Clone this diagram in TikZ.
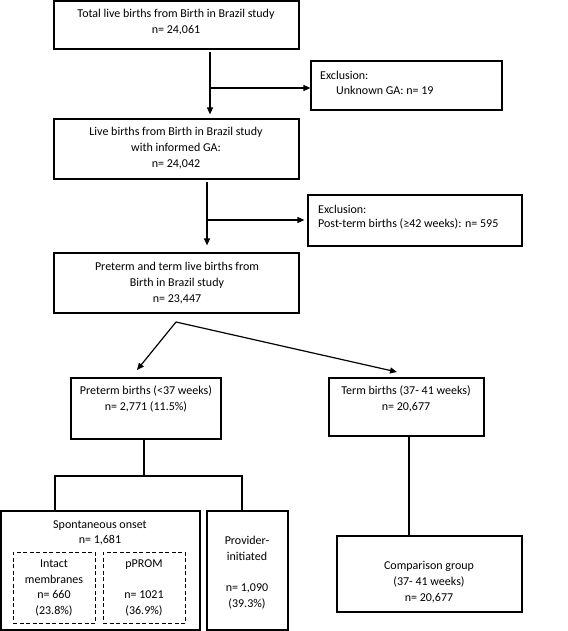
\documentclass[tikz,border=0pt]{standalone}
\usepackage{fontspec}
\setmainfont{Carlito}
\usetikzlibrary{arrows.meta,fit}
\begin{document}
\begin{tikzpicture}[x=1pt,y=-1pt,
 box/.style={draw, line width=1.2pt, inner sep=0pt},
 dbox/.style={draw, line width=0.9pt, dash pattern=on 4pt off 2.5pt, inner sep=0pt},
 txt/.style={align=center, font=\fontsize{12}{15.7}\selectfont, inner sep=0pt},
 ltxt/.style={anchor=west, font=\fontsize{12}{15.7}\selectfont, inner sep=0pt},
 arr/.style={line width=1.2pt, -{Triangle[length=7pt,width=6pt]}},
 ln/.style={line width=1.2pt}]
\useasboundingbox (0,0) rectangle (567,631);
% boxes
\node[box, fit={(54,1)(299,49)}] (b1) {};
\node[box, fit={(311,61)(502,110)}] (e1) {};
\node[box, fit={(54,119)(299,179)}] (b2) {};
\node[box, fit={(308,195)(522,246)}] (e2) {};
\node[box, fit={(54,253)(299,313)}] (b3) {};
\node[box, fit={(71,378)(221,439)}] (pre) {};
\node[box, fit={(329,378)(484,436)}] (term) {};
\node[box, fit={(1,511)(200,630)}] (spon) {};
\node[dbox, fit={(13,552)(95,623)}] (intact) {};
\node[dbox, fit={(103,552)(185,623)}] (pprom) {};
\node[box, fit={(207,511)(288,630)}] (prov) {};
\node[box, fit={(337,536)(522,612)}] (comp) {};
% texts
\node[txt] (t1) at (176,22) {Total live births from Birth in Brazil study\\n= 24,061};
\node[ltxt] (te1a) at (320,75) {Exclusion:};
\node[ltxt] (te1b) at (336,90) {Unknown GA: n= 19};
\node[txt] (t2) at (176,148) {Live births from Birth in Brazil study\\with informed GA:\\n= 24,042};
\node[ltxt] (te2a) at (318,209) {Exclusion:};
\node[ltxt] (te2b) at (318,224) {Post-term births (≥42 weeks): n= 595};
\node[txt] (t3) at (177,283) {Preterm and term live births from\\Birth in Brazil study\\n= 23,447};
\node[txt] (tpre) at (146,399) {Preterm births (<37 weeks)\\n= 2,771 (11.5\%)};
\node[txt] (tterm) at (406,399) {Term births (37- 41 weeks)\\n= 20,677};
\node[txt] (tspon) at (100,533) {Spontaneous onset\\n= 1,681};
\node[txt] (tint) at (54,588) {Intact\\membranes\\n= 660\\(23.8\%)};
\node[txt] (tpp) at (144,588) {pPROM\\\mbox{}\\n= 1021\\(36.9\%)};
\node[txt] (tprov) at (247,572.5) {Provider-\\initiated\\\mbox{}\\n= 1,090\\(39.3\%)};
\node[txt] (tcomp) at (429,582) {Comparison group\\(37- 41 weeks)\\n= 20,677};
% connectors
\coordinate (c1) at (210,88);
\coordinate (c2) at (207,220);
\coordinate (c3) at (176,322);
\coordinate (p1) at (137,370);
\coordinate (p2) at (397,372);
\coordinate (br) at (144,476);
\coordinate (bl) at (55,476);
\coordinate (brr) at (242,476);
\coordinate (tc) at (409,500);
\draw[arr] ([yshift=-2pt]b1.south -| c1) -- ([yshift=4pt]b2.north -| c1);
\draw[arr] (c1) -- (e1.west |- c1);
\draw[arr] ([yshift=-2pt]b2.south -| c2) -- ([yshift=7pt]b3.north -| c2);
\draw[arr] (c2) -- ([xshift=-3pt]e2.west |- c2);
\draw[arr] (c3) -- (p1);
\draw[arr] (c3) -- (p2);
\draw[ln] (pre.south -| br) -- (br);
\draw[ln] (spon.north -| bl) -- (bl) -- (brr) -- (prov.north -| brr);
\draw[ln] (term.south -| tc) -- (comp.north -| tc);
\end{tikzpicture}
\end{document}
